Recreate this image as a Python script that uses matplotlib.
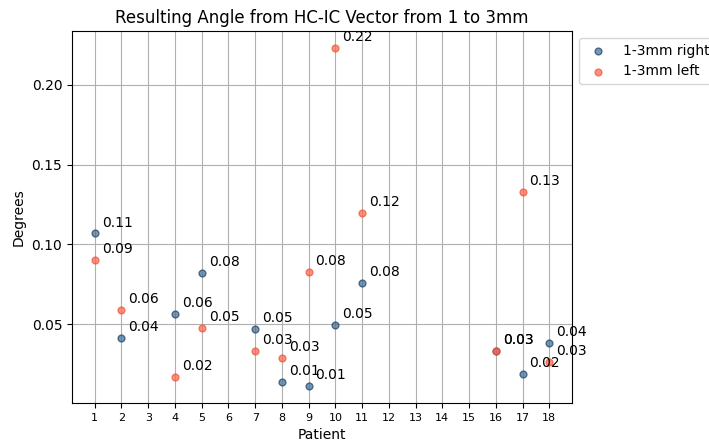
import matplotlib
matplotlib.use("Agg")
import matplotlib.pyplot as plt

patients = [1, 2, 4, 5, 7, 8, 9, 10, 11, 16, 17, 18]
right_vals = [0.1069, 0.0413, 0.0563, 0.0819, 0.0469, 0.0138, 0.0113, 0.0494, 0.0758, 0.0331, 0.0188, 0.0381]
left_vals = [0.0900, 0.0588, 0.0169, 0.0475, 0.0331, 0.0288, 0.0825, 0.2231, 0.1200, 0.0331, 0.1331, 0.0263]
xticks = list(range(1, 19))

fig = plt.figure(figsize=(7.09, 4.43), dpi=100)
ax = fig.add_axes([0.1016, 0.0903, 0.7052, 0.8397])

ax.scatter(patients, right_vals, s=24, color="#3a6d98", edgecolors="#1f3f5f", linewidths=1,
           alpha=0.7, label="1-3mm right", zorder=3)
ax.scatter(patients, left_vals, s=24, color="tomato", edgecolors="#f05030", linewidths=1,
           alpha=0.7, label="1-3mm left", zorder=3)

for x, y in zip(patients, right_vals):
    ax.annotate(f"{y:.2f}", (x, y), xytext=(5, 5), textcoords="offset points")
for x, y in zip(patients, left_vals):
    ax.annotate(f"{y:.2f}", (x, y), xytext=(5, 5), textcoords="offset points")

ax.set_xticks(xticks)
ax.set_xticklabels([str(t) for t in xticks], fontsize=8)
ax.set_yticks([0.05, 0.10, 0.15, 0.20])
ax.grid(True)
ax.set_axisbelow(True)
ax.set_xlabel("Patient")
ax.set_ylabel("Degrees")
ax.set_title("Resulting Angle from HC-IC Vector from 1 to 3mm")
ax.legend(loc="upper left", bbox_to_anchor=(1, 1))

fig.savefig("out.png", dpi=100)
